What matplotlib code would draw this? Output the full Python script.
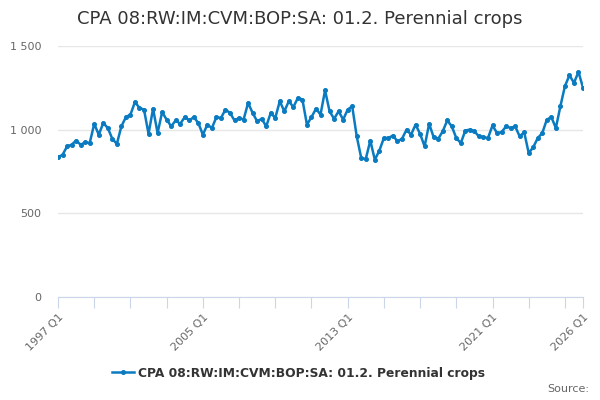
import matplotlib.pyplot as plt
from matplotlib.lines import Line2D

title = "CPA 08:RW:IM:CVM:BOP:SA: 01.2. Perennial crops"
series_name = "CPA 08:RW:IM:CVM:BOP:SA: 01.2. Perennial crops"

# quarterly values, 1997 Q1 .. 2026 Q1
values = [
    835, 850, 900, 910,
    935, 910, 925, 920,
    1035, 970, 1040, 1010,
    945, 915, 1020, 1075,
    1090, 1165, 1130, 1120,
    975, 1125, 980, 1105,
    1060, 1020, 1055, 1035,
    1075, 1055, 1075, 1040,
    970, 1030, 1010, 1075,
    1070, 1120, 1100, 1055,
    1070, 1060, 1160, 1100,
    1050, 1065, 1020, 1100,
    1070, 1170, 1110, 1170,
    1135, 1190, 1180, 1030,
    1075, 1125, 1090, 1235,
    1110, 1065, 1110, 1060,
    1120, 1140, 960, 830,
    825, 935, 820, 875,
    950, 950, 965, 930,
    945, 1000, 970, 1030,
    975, 900, 1035, 955,
    945, 990, 1055, 1020,
    950, 920, 995, 1000,
    990, 960, 955, 950,
    1025, 980, 985, 1020,
    1010, 1020, 960, 985,
    860, 895, 950, 980,
    1060, 1075, 1010, 1140,
    1260, 1325, 1280, 1345,
    1250,
]
periods = [f"{1997 + i // 4} Q{i % 4 + 1}" for i in range(len(values))]

yticks = [0, 500, 1000, 1500]
ytick_labels = ["0", "500", "1 000", "1 500"]
label_periods = ["1997 Q1", "2005 Q1", "2013 Q1", "2021 Q1", "2026 Q1"]

color = "#0a7bc1"
grey = "#666666"

fig = plt.figure(figsize=(6, 4), dpi=100)
ax = fig.add_axes([0.0967, 0.2575, 0.875, 0.6275])

x = list(range(len(values)))
ax.plot(x, values, color=color, lw=1.8, marker="o", ms=2.6, zorder=3)

ax.set_xlim(0, len(values) - 1)
ax.set_ylim(0, 1500)
ax.set_yticks(yticks)
ax.set_yticklabels(ytick_labels)
ax.grid(axis="y", color="#e6e6e6", lw=1)
ax.set_axisbelow(True)

minor = list(range(0, len(values), 8)) + [len(values) - 1]
ax.set_xticks(minor)
ax.set_xticklabels([p if p in label_periods else "" for p in (periods[i] for i in minor)],
                   rotation=45, ha="right", va="top", rotation_mode="anchor")

for s in ["top", "right", "left"]:
    ax.spines[s].set_visible(False)
ax.spines["bottom"].set_color("#ccd6eb")
ax.tick_params(axis="x", colors="#ccd6eb", length=8, labelcolor=grey, labelsize=8, pad=3)
ax.tick_params(axis="y", length=0, labelcolor=grey, labelsize=8, pad=12)

fig.text(0.5, 0.952, title, ha="center", va="center", fontsize=13, color="#333333")

handle = Line2D([0], [0], color=color, lw=1.8, marker="o", ms=2.6)
fig.legend([handle], [series_name], loc="center", bbox_to_anchor=(0.497, 0.067),
           frameon=False, handlelength=1.8, handletextpad=0.3,
           prop={"size": 8.8, "weight": "bold"}, labelcolor="#333333")

fig.text(0.982, 0.027, "Source:", ha="right", va="center", fontsize=8, color=grey)

fig.savefig("out.png", dpi=100)
